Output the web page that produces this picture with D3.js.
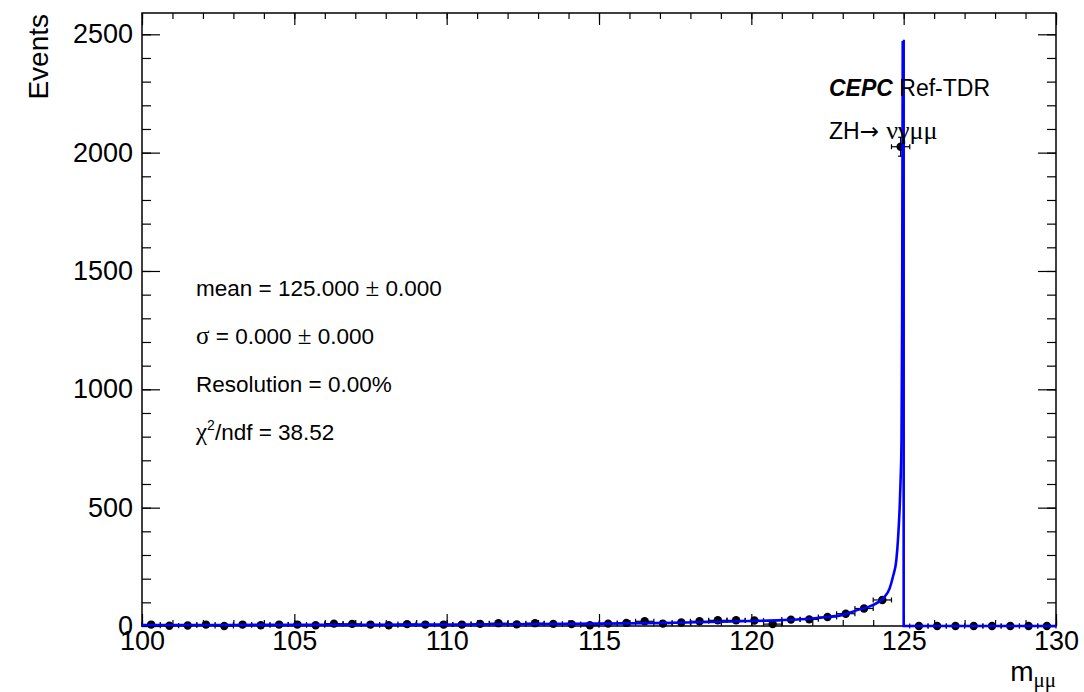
<!DOCTYPE html>
<html>
<head>
<meta charset="utf-8">
<script src="https://cdn.jsdelivr.net/npm/d3@7"></script>
<style>
  body { margin: 0; background: #fff; }
  svg { display: block; font-family: "Liberation Sans", Arial, Helvetica, sans-serif; }
</style>
</head>
<body>
<svg width="1084" height="692"></svg>
<script>
// histogram bins (width 0.6 GeV), centres and contents
const binCentres = [100.3, 100.9, 101.5, 102.1, 102.7, 103.3, 103.9, 104.5, 105.1, 105.7,
                    106.3, 106.9, 107.5, 108.1, 108.7, 109.3, 109.9, 110.5, 111.1, 111.7,
                    112.3, 112.9, 113.5, 114.1, 114.7, 115.3, 115.9, 116.5, 117.1, 117.7,
                    118.3, 118.9, 119.5, 120.1, 120.7, 121.3, 121.9, 122.5, 123.1, 123.7,
                    124.3, 124.9, 125.5, 126.1, 126.7, 127.3, 127.9, 128.5, 129.1, 129.7];
const binCounts = [6, 1, 2, 6, 0, 6, 3, 6, 6, 3,
                   10, 9, 6, 3, 8, 6, 6, 6, 9, 12,
                   7, 12, 9, 8, 3, 10, 13, 20, 10, 15,
                   20, 24, 24, 23, 8, 27, 28, 38, 52, 74,
                   110, 2025, 0, 0, 0, 0, 0, 0, 0, 0];
const binErrors = [2.4, 1, 1.4, 2.4, 0, 2.4, 1.7, 2.4, 2.4, 1.7,
                   3.2, 3, 2.4, 1.7, 2.8, 2.4, 2.4, 2.4, 3, 3.5,
                   2.6, 3.5, 3, 2.8, 1.7, 3.2, 3.6, 4.5, 3.2, 3.9,
                   4.5, 4.9, 4.9, 4.8, 2.8, 5.2, 5.3, 6.2, 7.2, 8.6,
                   10.5, 40, 0, 0, 0, 0, 0, 0, 0, 0];
const binHalfWidth = 0.3;

// fitted curve
const fitX = [100, 103, 106, 109, 112, 114, 116, 117.5, 119, 120, 121, 122, 122.5, 123, 123.45,
              124.0, 124.33, 124.54, 124.65, 124.76, 124.82, 124.87, 124.9, 124.93, 124.95, 124.97];
const fitY = [4, 4.5, 5, 6, 7.5, 9, 11, 14, 18, 21, 25, 32, 38, 47, 66,
              89, 117, 159, 209, 279, 378, 505, 618, 787, 1300, 2472];
const tailX = [124.97, 125.0, 125.0, 130];
const tailY = [2472, 2472, 0, 0];

const xMajor = [100, 105, 110, 115, 120, 125, 130];
const xMinor = d3.range(100, 131, 1);
const yMajor = [0, 500, 1000, 1500, 2000, 2500];
const yMinor = d3.range(0, 2590, 100);

// fit summary lines: [greek prefix, text, symbol, text]
const fitLines = [
  ["", "mean = 125.000 ", "\u00b1", " 0.000"],
  ["\u03c3", " = 0.000 ", "\u00b1", " 0.000"],
  ["", "Resolution = 0.00%", "", ""]
];

const serif = '"Liberation Serif", "DejaVu Serif", serif';
const svg = d3.select('svg');
const frame = { left: 142, right: 1056, top: 13, bottom: 626 };

const x = d3.scaleLinear().domain([100, 130]).range([frame.left, frame.right]);
const y = d3.scaleLinear().domain([0, 2590]).range([frame.bottom, frame.top]);

svg.append('rect').attr('width', 1084).attr('height', 692).attr('fill', '#fff');

function strip(g) {
    g.select('.domain').remove();
    g.selectAll('.tick line').attr('stroke', '#000').attr('stroke-width', 1.2);
}
function labels(g) {
    g.selectAll('.tick text').attr('font-size', 27).attr('fill', '#000')
        .attr('font-family', '"Liberation Sans", Arial, sans-serif');
}

// y axes
svg.append('g').attr('transform', `translate(${frame.left},0)`)
    .call(d3.axisLeft(y).tickValues(yMinor).tickSizeInner(-9).tickSizeOuter(0).tickFormat(''))
    .call(strip);
svg.append('g').attr('transform', `translate(${frame.left},0)`)
    .call(d3.axisLeft(y).tickValues(yMajor).tickSizeInner(-18).tickSizeOuter(0).tickPadding(9)
        .tickFormat(d3.format('d')))
    .call(strip)
    .call(labels);
svg.append('g').attr('transform', `translate(${frame.right},0)`)
    .call(d3.axisRight(y).tickValues(yMinor).tickSizeInner(-9).tickSizeOuter(0).tickFormat(''))
    .call(strip);
svg.append('g').attr('transform', `translate(${frame.right},0)`)
    .call(d3.axisRight(y).tickValues(yMajor).tickSizeInner(-18).tickSizeOuter(0).tickFormat(''))
    .call(strip);

// x axes
svg.append('g').attr('transform', `translate(0,${frame.bottom})`)
    .call(d3.axisBottom(x).tickValues(xMinor).tickSizeInner(-6).tickSizeOuter(0).tickFormat(''))
    .call(strip);
svg.append('g').attr('transform', `translate(0,${frame.bottom})`)
    .call(d3.axisBottom(x).tickValues(xMajor).tickSizeInner(-12).tickSizeOuter(0).tickPadding(5)
        .tickFormat(d3.format('d')))
    .call(strip)
    .call(labels);
svg.append('g').attr('transform', `translate(0,${frame.top})`)
    .call(d3.axisTop(x).tickValues(xMinor).tickSizeInner(-6).tickSizeOuter(0).tickFormat(''))
    .call(strip);
svg.append('g').attr('transform', `translate(0,${frame.top})`)
    .call(d3.axisTop(x).tickValues(xMajor).tickSizeInner(-12).tickSizeOuter(0).tickFormat(''))
    .call(strip);

// frame
svg.append('rect')
    .attr('x', frame.left).attr('y', frame.top)
    .attr('width', frame.right - frame.left).attr('height', frame.bottom - frame.top)
    .attr('fill', 'none').attr('stroke', '#000').attr('stroke-width', 1.5);

// axis titles
svg.append('text')
    .attr('transform', `translate(48,14) rotate(-90)`)
    .attr('text-anchor', 'end')
    .attr('font-size', 28)
    .text('Events');

const xt = svg.append('text')
    .attr('x', frame.right).attr('y', 681)
    .attr('text-anchor', 'end')
    .attr('font-size', 28);
xt.append('tspan').text('m');
xt.append('tspan').attr('font-family', serif).attr('font-size', 21).attr('dy', 6).text('\u03bc\u03bc');

// data points
const bins = binCentres.map((c, i) => ({ c: c, v: binCounts[i], e: binErrors[i] }));
const pts = svg.append('g').attr('stroke', '#000').attr('stroke-width', 1.2);
bins.forEach(d => {
    const cx = x(d.c), cy = y(d.v);
    const x0 = x(d.c - binHalfWidth), x1 = x(d.c + binHalfWidth);
    pts.append('line').attr('x1', x0).attr('x2', x1).attr('y1', cy).attr('y2', cy);
    pts.append('line').attr('x1', x0).attr('x2', x0).attr('y1', cy - 2.5).attr('y2', cy + 2.5);
    pts.append('line').attr('x1', x1).attr('x2', x1).attr('y1', cy - 2.5).attr('y2', cy + 2.5);
    if (d.e > 0) {
        const y0 = y(d.v - d.e), y1 = y(d.v + d.e);
        pts.append('line').attr('x1', cx).attr('x2', cx).attr('y1', y0).attr('y2', y1);
        pts.append('line').attr('x1', cx - 2.5).attr('x2', cx + 2.5).attr('y1', y0).attr('y2', y0);
        pts.append('line').attr('x1', cx - 2.5).attr('x2', cx + 2.5).attr('y1', y1).attr('y2', y1);
    }
});
svg.append('g').selectAll('circle')
    .data(bins)
    .join('circle')
    .attr('cx', d => x(d.c))
    .attr('cy', d => y(d.v))
    .attr('r', 4.2)
    .attr('fill', '#000');

// fit curve
const fitLine = d3.line()
    .curve(d3.curveMonotoneX)
    .x(d => x(d[0]))
    .y(d => y(d[1]));
const tailLine = d3.line()
    .x(d => x(d[0]))
    .y(d => y(d[1]));

svg.append('path')
    .datum(fitX.map((v, i) => [v, fitY[i]]))
    .attr('d', fitLine)
    .attr('fill', 'none').attr('stroke', '#0000ff').attr('stroke-width', 2.6);
svg.append('path')
    .datum(tailX.map((v, i) => [v, tailY[i]]))
    .attr('d', tailLine)
    .attr('fill', 'none').attr('stroke', '#0000ff').attr('stroke-width', 2.6);

// labels
const cepc = svg.append('text').attr('x', 829).attr('y', 96).attr('font-size', 23);
cepc.append('tspan').attr('font-weight', 'bold').attr('font-style', 'italic').text('CEPC');
cepc.append('tspan').text(' Ref-TDR');

const proc = svg.append('text').attr('x', 829).attr('y', 139).attr('font-size', 23);
proc.append('tspan').text('ZH');
proc.append('tspan').attr('font-family', '"DejaVu Sans", sans-serif').text('\u2192 ');
proc.append('tspan').attr('font-family', serif).attr('font-size', 26).text('\u03bd\u03b3\u03bc\u03bc');

fitLines.forEach((t, i) => {
    const tx = svg.append('text')
        .attr('x', 196).attr('y', 296 + i * 48)
        .attr('font-size', 22.5);
    if (t[0]) tx.append('tspan').attr('font-family', serif).attr('font-size', 25).text(t[0]);
    tx.append('tspan').text(t[1]);
    if (t[2]) tx.append('tspan').attr('font-family', serif).attr('font-size', 25).text(t[2]);
    if (t[3]) tx.append('tspan').text(t[3]);
});
const chi = svg.append('text').attr('x', 196).attr('y', 440).attr('font-size', 22.5);
chi.append('tspan').attr('font-family', serif).attr('font-size', 25).text('\u03c7');
chi.append('tspan').attr('font-size', 14).attr('dy', -10).text('2');
chi.append('tspan').attr('dy', 10).text('/ndf = 38.52');
</script>
</body>
</html>
